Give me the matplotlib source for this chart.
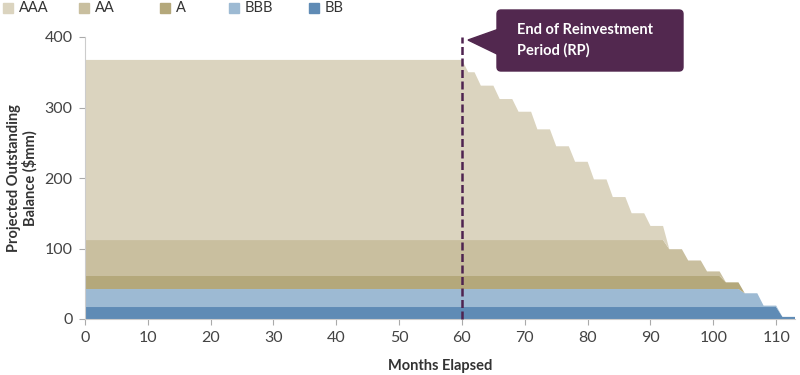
import numpy as np
import matplotlib
matplotlib.use("Agg")
import matplotlib.pyplot as plt
from matplotlib.patches import FancyBboxPatch, Polygon, Rectangle

plt.rcParams.update({
    "font.family": ["Lato", "DejaVu Sans"],
    "font.size": 10,
})

# tranche names, bottom of stack first
TRANCHES = ["BB", "BBB", "A", "AA", "AAA"]
COLORS = {"AAA": "#dbd4bf", "AA": "#c9bf9f", "A": "#b4a87b",
          "BBB": "#9dbad3", "BB": "#5f8bb5"}

# balance at start ($mm) and after each amortisation step
STEP_MONTHS = [61, 63, 66, 69, 72, 75, 78, 81, 84, 87, 90, 93,
               96, 99, 102, 105, 108, 111]
START = {"AAA": 255.5, "AA": 51, "A": 18.5, "BBB": 25.5, "BB": 17}
AAA_STEPS = [238, 219, 200, 182, 157, 133, 111, 86, 61, 38, 20, 0,
             0, 0, 0, 0, 0, 0]
AA_STEPS = [51, 51, 51, 51, 51, 51, 51, 51, 51, 51, 51, 38,
            22, 6.5, 0, 0, 0, 0]
A_STEPS = [18.5] * 14 + [9.5, 0, 0, 0]
BBB_STEPS = [25.5] * 15 + [19.5, 2, 0]
BB_STEPS = [17] * 16 + [17, 3]
STEPS = {"AAA": AAA_STEPS, "AA": AA_STEPS, "A": A_STEPS,
         "BBB": BBB_STEPS, "BB": BB_STEPS}
LAST_MONTH = 113
RP_MONTH = 60

X_TICKS = list(range(0, 111, 10))
Y_TICKS = [0, 100, 200, 300, 400]


def step_path(start, steps):
    # each payment ramps down over the month before the payment date
    xs, ys = [0], [start]
    prev = start
    for m, v in zip(STEP_MONTHS, steps):
        xs += [m - 1, m]
        ys += [prev, v]
        prev = v
    xs.append(LAST_MONTH)
    ys.append(prev)
    return xs, ys


fig = plt.figure(figsize=(8, 3.75), dpi=100)
ax = fig.add_axes([85 / 800, 56 / 375, 710 / 800, 282 / 375])

x = None
layers = []
for t in TRANCHES:
    x, y = step_path(START[t], STEPS[t])
    layers.append(y)
ax.stackplot(x, *layers, colors=[COLORS[t] for t in TRANCHES], linewidth=0)

ax.plot([RP_MONTH, RP_MONTH], [0, 400], color="#4e2350", linewidth=1.8,
        dashes=(3.2, 1.4), clip_on=False, zorder=5)

ax.set_xlim(0, LAST_MONTH)
ax.set_ylim(0, 400)
ax.set_xticks(X_TICKS)
ax.set_yticks(Y_TICKS)
for s in ["top", "right"]:
    ax.spines[s].set_visible(False)
for s in ["left", "bottom"]:
    ax.spines[s].set_color("#cccccc")
    ax.spines[s].set_linewidth(0.8)
ax.tick_params(colors="#aaaaaa", length=4, width=0.8, labelcolor="#444444",
               labelsize=11.5)
ax.tick_params(axis="x", pad=5)
ax.tick_params(axis="y", pad=5)

ax.set_xlabel("Months Elapsed", fontweight="bold", color="#333333",
              fontsize=10.5, labelpad=10)
ax.set_ylabel("Projected Outstanding\nBalance ($mm)", fontweight="bold",
              color="#333333", fontsize=10.5, labelpad=5, linespacing=1.1)

# legend along the top edge
inch = fig.dpi_scale_trans
legend_x = [3, 79, 160, 229, 309]
for t, lx in zip(["AAA", "AA", "A", "BBB", "BB"], legend_x):
    fig.patches.append(Rectangle((lx / 100, (375 - 12.5) / 100), 0.095, 0.095,
                                 transform=inch, color=COLORS[t]))
    fig.text((lx + 16) / 100, (375 - 8) / 100, t, transform=inch,
             va="center", ha="left", fontsize=10.5, color="#333333")

# callout for the end of the reinvestment period
box_color = "#52284f"
fig.patches.append(FancyBboxPatch((497 / 100, (375 - 71) / 100), 1.86, 0.61,
                                  boxstyle="round,pad=0,rounding_size=0.04",
                                  transform=inch, color=box_color))
fig.patches.append(Polygon([(468 / 100, (375 - 40) / 100),
                            (499 / 100, (375 - 29) / 100),
                            (499 / 100, (375 - 55) / 100)],
                           closed=True, transform=inch, color=box_color))
fig.text(517 / 100, (375 - 40.5) / 100, "End of Reinvestment\nPeriod (RP)",
         transform=inch, va="center", ha="left", color="white",
         fontweight="bold", fontsize=10.5, linespacing=1.55)

fig.savefig("out.png", dpi=100)
plt.close(fig)
